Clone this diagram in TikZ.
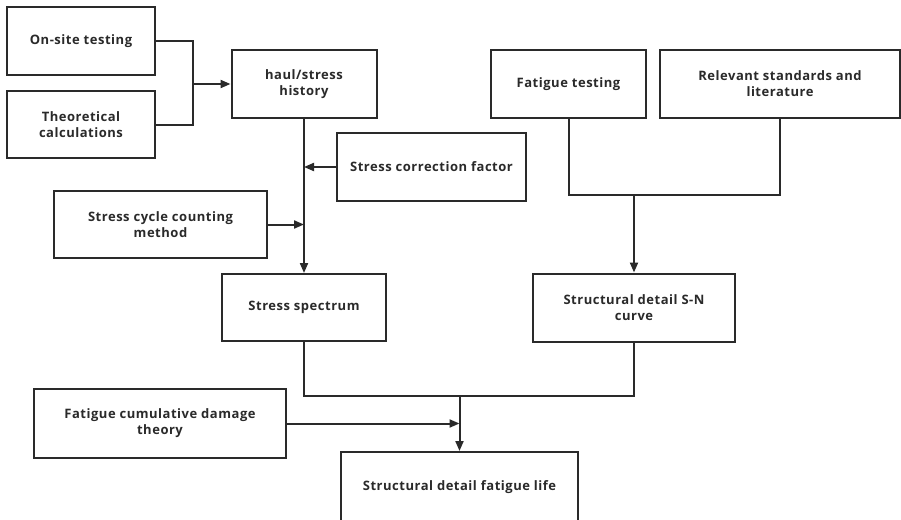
\documentclass[tikz,border=0pt]{standalone}
\usepackage{fontspec}
\setmainfont{Open Sans}
\newfontfamily\boxfont{Open Sans}[LetterSpace=4]
\usetikzlibrary{arrows.meta}
\definecolor{ink}{HTML}{2A2A2A}
\tikzset{
  box/.style={draw=ink, line width=2pt, fill=white, align=center, inner sep=0pt,
    font=\boxfont\bfseries\fontsize{13}{16}\selectfont, text=ink},
  conn/.style={draw=ink, line width=2pt},
  arr/.style={conn, -{Triangle[length=10pt,width=8pt]}}
}
\begin{document}
\begin{tikzpicture}[x=1pt,y=-1pt]
\useasboundingbox (0,0) rectangle (901,519);
\clip (0,0) rectangle (901,519);
\fill[white] (0,0) rectangle (901,519);
\node[box, minimum width=148pt, minimum height=68pt] (A) at (81,41) {On-site testing};
\node[box, minimum width=148pt, minimum height=67pt] (B) at (81,124.5) {Theoretical\\calculations};
\node[box, minimum width=145pt, minimum height=68pt] (C) at (304,84) {haul/stress\\history};
\node[box, minimum width=189pt, minimum height=68pt] (D) at (431.5,167) {Stress correction factor};
\node[box, minimum width=213pt, minimum height=67pt] (E) at (160.5,224.5) {Stress cycle counting\\method};
\node[box, minimum width=164pt, minimum height=67pt] (F) at (304,307.5) {Stress spectrum};
\node[box, minimum width=155pt, minimum height=68pt] (G) at (568.5,84) {Fatigue testing};
\node[box, minimum width=240pt, minimum height=68pt] (H) at (780,84) {Relevant standards and\\literature};
\node[box, minimum width=202pt, minimum height=68pt] (I) at (634,307.5) {Structural detail S-N\\curve};
\node[box, minimum width=252pt, minimum height=69pt] (J) at (160,423.5) {Fatigue cumulative damage\\theory};
\node[box, minimum width=237pt, minimum height=70pt] (K) at (459.5,487) {Structural detail fatigue life};

% inputs to history
\coordinate (m1) at (193,84);
\draw[conn] (A.east) -| (m1) |- (B.east);
\draw[arr] (m1) -- (C.west);
% history to spectrum
\draw[arr] (C.south) -- (F.north);
\coordinate (d1) at (C.south |- D.west);
\draw[arr] (D.west) -- (d1);
\coordinate (e1) at (C.south |- E.east);
\draw[arr] (E.east) -- (e1);
% S-N curve inputs
\coordinate (g1) at (634,195);
\draw[conn] (G.south) |- (g1) -| (H.south);
\draw[arr] (g1) -- (I.north);
% final
\coordinate (k1) at (K.north |- 0,396);
\draw[conn] (F.south) |- (k1) -| (I.south);
\draw[arr] (k1) -- (K.north);
\coordinate (j1) at (K.north |- J.east);
\draw[arr] (J.east) -- (j1);
\end{tikzpicture}
\end{document}
